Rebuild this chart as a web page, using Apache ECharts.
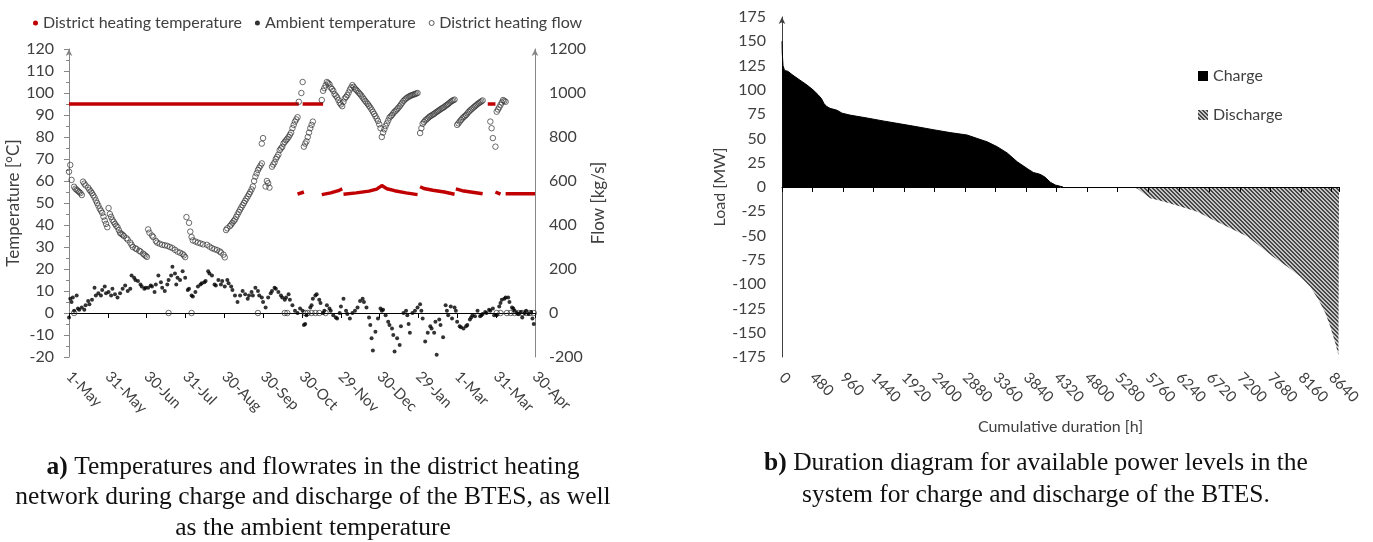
<!DOCTYPE html>
<html>
<head>
<meta charset="utf-8">
<title>BTES district heating</title>
<script src="https://cdn.jsdelivr.net/npm/echarts@6.0.0/dist/echarts.min.js"></script>
<style>
	html, body { margin: 0; padding: 0; background: #fff; }
	#main { width: 1373px; height: 542px; }
</style>
</head>
<body>
<div id="main"></div>
<script>
// ---- a) district heating, one year from 1-May (x = day of year) ----
var monthLabels = ['1-May', '31-May', '30-Jun', '31-Jul', '30-Aug', '30-Sep', '30-Oct',
	'29-Nov', '30-Dec', '29-Jan', '1-Mar', '31-Mar', '30-Apr'];

// supply temperature [°C], '-' breaks the line
var dhTemp = [
	[0, 95], [180, 95], [181, '-'], [183, 95], [199, 95], [200, '-'], [328, 95], [334, 95], [335, '-'],
	[179, 54], [184, 55], [185, '-'],
	[198, 53.8], [205, 54.6], [211, 55.6], [214, 56.5], [214.5, '-'],
	[215, 54], [225, 54.6], [235, 55.4], [241, 56.3], [245, 57.9],
	[249, 56.5], [255, 55.6], [264, 54.6], [273, 53.8], [274, '-'],
	[275, 57.4], [278, 56.6], [285, 55.8], [294, 55], [302, 54], [302.5, '-'],
	[303, 56.4], [308, 55.6], [316, 54.9], [324, 54.2], [325, '-'],
	[334, 55], [338, 54], [339, '-'],
	[342, 54.2], [365, 54.2]
];

// ambient temperature [°C]
var ambientTemp = [
	[0, -2], [1, 6.5], [2, 5], [3, 7], [4, 1], [6, 8], [7, 2], [8, 1.5], [10, 2.5], [12, 1.5], [13, 3.5], [15, 5.5], [16, 4],
	[18, 6], [20, 11.5], [21, 8], [23, 9], [25, 8], [26, 10.5], [28, 12], [29, 9], [31, 9.5], [33, 8], [34, 11], [36, 8.5],
	[38, 7], [40, 9], [42, 11], [44, 12.5], [46, 10], [48, 11], [49, 17], [51, 16], [52, 15], [54, 14.5], [56, 13],
	[57, 12], [59, 11], [60, 11.5], [62, 11.5], [64, 12.5], [65, 12], [67, 9.5], [68, 13], [70, 17], [72, 14], [73, 11.5],
	[75, 10], [77, 13], [78, 15], [80, 17], [81, 21], [83, 18], [84, 13], [85, 16], [87, 15], [89, 19], [91, 16], [93, 10.5],
	[94, 11], [96, 8], [97, 7.5], [99, 9.5], [101, 12], [103, 13], [104, 13.5], [106, 14], [107, 14.5], [109, 19], [110, 18],
	[112, 17], [114, 13], [115, 12.5], [117, 15], [119, 13], [120, 14.5], [122, 12], [124, 15], [125, 13.5], [127, 12],
	[128, 10.5], [130, 8], [132, 5], [134, 8], [136, 10], [138, 8.5], [140, 6.5], [141, 8], [143, 9.5], [144, 8],
	[146, 11.5], [148, 10], [149, 8], [151, 7], [152, 5], [154, 2.5], [156, 7], [158, 9], [159, 10], [161, 11.5],
	[162, 11], [164, 9.5], [166, 8], [167, 7], [169, 6], [170, 7], [172, 8.5], [173, 6], [175, 3.5], [177, 1], [179, 0],
	[181, 2], [183, 1], [184, -5.5], [185, -5], [186, -1], [189, 2.5], [190, 3.5], [191, 6.5], [193, 8], [194, 8.5],
	[196, 6], [197, 4.5], [199, 0], [200, 1], [202, 3.5], [204, 2], [205, 1], [207, -1], [209, -2], [210, -2.5], [212, 0],
	[213, 3], [215, 6.5], [217, 1], [218, -0.5], [220, -2.5], [222, 0], [224, 1], [226, 2.5], [228, 5.5], [230, 6.5],
	[231, 5], [233, 2.5], [235, -2], [236, -5.5], [237, -11.5], [238, -17], [240, -8.5], [242, -2.5], [244, 2],
	[245, 1], [246, 1.5], [248, -1], [250, -4], [251, -5.5], [253, -7], [254, -10], [255, -17.5], [257, -11.5],
	[259, -14.5], [260, -6], [262, 0], [264, 1], [265, -1], [266, -5], [267, -9], [269, 0], [271, 1], [273, 2.5],
	[275, 4], [276, 1], [277, -2.5], [279, -13], [281, -9], [283, -6], [284, -7], [286, -9], [287, -4], [288, -19],
	[290, -3], [291, -5.5], [293, -11], [295, 3.5], [296, 1], [297, -1], [299, 3], [300, -2.5], [302, 2.5], [303, 1],
	[304, -4], [306, -6], [307, -6.5], [309, -7], [311, -6], [312, -5.5], [314, -3], [315, -2], [316, -1], [318, -1.5],
	[320, 1], [322, -1.5], [323, -1], [324, -0.5], [326, 0.5], [327, 0], [329, 1.5], [330, 1], [332, 2], [333, -1],
	[335, -1], [337, 3], [338, 4.5], [339, 6], [341, 6.5], [342, 7], [344, 7], [345, 5], [347, 2.5], [348, 2], [349, 1],
	[351, 0], [352, -0.5], [354, 0.5], [355, -2], [357, 0], [358, 1], [360, -0.5], [362, 0.5], [363, -2.5], [364, -5]
];

// district heating flow [kg/s]
var dhFlow = [
	[0, 642], [1, 673], [2, 605], [4, 574], [5, 565], [6, 560], [7, 555], [8, 550], [9, 545], [10, 536],
	[11, 597], [12, 588], [13, 580], [15, 570], [16, 560], [17, 553], [18, 545], [19, 535], [20, 525], [21, 512],
	[22, 500], [23, 488], [24, 475], [25, 465], [26, 455], [27, 438], [28, 420], [29, 405], [30, 390],
	[31, 477], [32, 450], [33, 437], [34, 424], [35, 414], [36, 405], [37, 397], [38, 390], [39, 377], [40, 364],
	[41, 360], [42, 355], [43, 350], [45, 340], [46, 333], [48, 320], [49, 310], [50, 300], [52, 294], [53, 290],
	[55, 283], [56, 279], [58, 270], [59, 265], [60, 260], [61, 255],
	[62, 380], [63, 365], [65, 352], [66, 345], [68, 328], [69, 320], [71, 315], [73, 310], [75, 308], [77, 305],
	[79, 300], [81, 295], [83, 287], [85, 279], [87, 274], [89, 268], [90, 262], [91, 254],
	[92, 436], [94, 410], [95, 370], [96, 345], [97, 330], [99, 325], [101, 320], [103, 316], [105, 312], [108, 310],
	[110, 302], [112, 295], [114, 290], [116, 286], [118, 280], [119, 275], [121, 265], [122, 253],
	[123, 377], [124, 385], [126, 395], [127, 402], [128, 410], [129, 418], [130, 425], [131, 437], [132, 448],
	[133, 459], [134, 470], [135, 480], [136, 490], [137, 500], [138, 510], [139, 520], [140, 530], [141, 540],
	[142, 550], [143, 562], [144, 575], [145, 600], [146, 620], [147, 635], [148, 650], [149, 660], [150, 670], [151, 680],
	[151, 770], [152, 795],
	[154, 575], [155, 600], [156, 590], [157, 570],
	[159, 665], [160, 675], [161, 685], [162, 700], [163, 710], [164, 720], [165, 740], [166, 748], [167, 755],
	[168, 770], [169, 778], [170, 785], [171, 792], [172, 800], [173, 810], [174, 820], [175, 840], [176, 855],
	[177, 870], [178, 880], [179, 890], [180, 960], [182, 1000], [183, 1050],
	[184, 756], [185, 770], [186, 780], [187, 800], [188, 820], [189, 840], [190, 855], [191, 870],
	[198, 968], [199, 1010], [200, 1022], [201, 1035], [202, 1050], [203, 1045], [204, 1040], [205, 1025], [206, 1018],
	[207, 1010], [208, 995], [209, 988], [210, 980], [211, 968], [212, 955], [213, 948], [214, 940],
	[215, 960], [216, 975], [217, 982], [218, 990], [219, 1002], [220, 1015], [221, 1025], [222, 1036], [223, 1028],
	[224, 1020], [225, 1014], [226, 1008], [227, 1001], [228, 995], [229, 988], [230, 980], [231, 972], [232, 964],
	[233, 957], [234, 950], [235, 942], [236, 934], [237, 925], [238, 915], [239, 905], [240, 895], [241, 884],
	[242, 873], [243, 858], [244, 840], [245, 800],
	[246, 820], [247, 835], [248, 850], [249, 862], [250, 875], [251, 888], [252, 894], [253, 900], [254, 908],
	[255, 915], [256, 920], [257, 926], [258, 933], [259, 940], [260, 948], [261, 956], [262, 964], [263, 970],
	[264, 975], [265, 979], [266, 983], [267, 986], [268, 989], [269, 991], [270, 993], [271, 995], [272, 998], [273, 1000],
	[275, 818], [276, 840], [277, 860], [278, 868], [279, 875], [280, 880], [281, 885], [282, 890], [283, 895],
	[284, 898], [285, 902], [286, 905], [287, 910], [288, 914], [289, 918], [290, 922], [291, 926], [292, 930],
	[293, 933], [294, 937], [295, 942], [296, 946], [297, 950], [298, 955], [299, 960], [300, 964], [301, 967], [302, 970],
	[304, 855], [305, 862], [306, 870], [307, 877], [308, 884], [309, 890], [310, 895], [311, 900], [312, 907],
	[313, 914], [314, 920], [315, 925], [316, 930], [317, 935], [318, 940], [319, 945], [320, 950], [321, 954],
	[322, 958], [323, 962], [324, 966],
	[330, 870], [331, 840], [332, 795], [334, 756],
	[335, 915], [336, 925], [337, 935], [338, 946], [339, 957], [340, 968], [341, 964], [342, 960],
	// days without flow
	[4, 0], [78, 0], [96, 0], [148, 0], [169, 0], [171, 0], [185, 0], [187, 0], [190, 0], [193, 0], [196, 0], [201, 0],
	[335, 0], [338, 0], [343, 0], [346, 0], [349, 0], [352, 0], [355, 0], [358, 0], [361, 0], [364, 0]
];

// ---- b) duration diagram (x = cumulative hours, y = MW) ----
var chargeLoad = [
	[0, 150], [4, 138], [16, 125], [40, 120], [94, 119], [173, 115], [283, 110], [393, 105], [488, 100], [567, 95],
	[620, 91], [660, 86], [700, 83], [755, 81], [866, 79], [944, 76], [1070, 74], [1338, 71], [1590, 68], [1857, 65],
	[2125, 62], [2377, 59], [2644, 56], [2912, 53.5], [3069, 50], [3227, 46.5], [3384, 41.5], [3542, 35], [3699, 26],
	[3856, 19], [3951, 15], [4061, 13], [4140, 10], [4218, 5], [4300, 2], [4420, 0]
];
var dischargeLoad = [
	[5525, 0], [5600, -2], [5650, -5], [5792, -11.5], [5997, -15], [6265, -20], [6532, -25.5], [6784, -34],
	[7052, -42.5], [7319, -51], [7524, -61.5], [7729, -72], [7949, -82], [8153, -92.5], [8311, -103], [8437, -116],
	[8547, -130], [8625, -144], [8704, -161], [8751, -173], [8760, -173]
];

var labelFont = 'Lato';
var labelColor = '#404040';
var captionFont = 'Liberation Serif';

// fine "\" hatch for the discharge area (4px tile, 2px dark / 2px light)
var hatch = document.createElement('canvas');
hatch.width = 4;
hatch.height = 4;
var hctx = hatch.getContext('2d');
for (var hy = 0; hy < 4; ++hy) {
	for (var hx = 0; hx < 4; ++hx) {
		var d = (hx - hy + 8) % 4;
		hctx.fillStyle = (d === 0 || d === 1) ? '#474747' : '#c4c4c4';
		hctx.fillRect(hx, hy, 1, 1);
	}
}
var hatchFill = { image: hatch, repeat: 'repeat' };

var myChart = echarts.init(document.getElementById('main'));

var plainNumber = function(v) {
	return String(v);
};

var option = {
	animation: false,
	textStyle: { fontFamily: labelFont, color: labelColor },
	title: [{
		text: '{b|a)} Temperatures and flowrates in the district heating\nnetwork during charge and discharge of the BTES, as well\nas the ambient temperature',
		left: 308,
		top: 447,
		textAlign: 'center',
		textStyle: {
			fontFamily: captionFont, fontSize: 25.5, fontWeight: 'normal', color: '#111', lineHeight: 30.5,
			rich: { b: { fontFamily: captionFont, fontSize: 25.5, fontWeight: 'bold', color: '#111', lineHeight: 30.5 } }
		}
	}, {
		text: '{b|b)} Duration diagram for available power levels in the\nsystem for charge and discharge of the BTES.',
		left: 1031,
		top: 442,
		textAlign: 'center',
		textStyle: {
			fontFamily: captionFont, fontSize: 25.5, fontWeight: 'normal', color: '#111', lineHeight: 32,
			rich: { b: { fontFamily: captionFont, fontSize: 25.5, fontWeight: 'bold', color: '#111', lineHeight: 32 } }
		}
	}],
	legend: [{
		left: 28,
		top: 10,
		itemWidth: 5,
		itemHeight: 5,
		itemGap: 13,
		textStyle: { fontFamily: labelFont, fontSize: 16, color: labelColor },
		data: [
			{ name: 'District heating temperature', icon: 'circle', itemStyle: { color: '#C00000' } },
			{ name: 'Ambient temperature', icon: 'circle', itemStyle: { color: '#000' } },
			{ name: 'District heating flow', icon: 'circle', itemStyle: { color: '#fff', borderColor: '#333', borderWidth: 1 } }
		]
	}, {
		orient: 'vertical',
		left: 1193,
		top: 63,
		itemWidth: 10,
		itemHeight: 10,
		itemGap: 23,
		textStyle: { fontFamily: labelFont, fontSize: 16, color: labelColor },
		data: [
			{ name: 'Charge', icon: 'rect', itemStyle: { color: '#000' } },
			{ name: 'Discharge', icon: 'rect', itemStyle: { color: hatchFill } }
		]
	}],
	grid: [
		{ left: 69, top: 49, width: 466, height: 308 },
		{ left: 782, top: 17, width: 557, height: 340 }
	],
	xAxis: [{
		// zero line with ticks
		gridIndex: 0, type: 'value', min: 0, max: 365, interval: 365 / 12,
		axisLine: { onZero: true, lineStyle: { color: '#000', width: 1 } },
		axisTick: { show: true, length: 5, lineStyle: { color: '#000' } },
		axisLabel: { show: false },
		splitLine: { show: false }
	}, {
		// labels at the bottom
		gridIndex: 0, type: 'value', position: 'bottom', min: 0, max: 365, interval: 365 / 12,
		axisLine: { show: false, onZero: false },
		axisTick: { show: false },
		splitLine: { show: false },
		axisLabel: {
			rotate: -45, margin: 17, fontSize: 15, color: labelColor,
			formatter: function(v) {
				return monthLabels[Math.round(v / (365 / 12))] || '';
			}
		}
	}, {
		gridIndex: 1, type: 'value', min: 0, max: 8760, interval: 480,
		axisLine: { onZero: true, lineStyle: { color: '#000', width: 1 } },
		axisTick: { show: true, length: 5, lineStyle: { color: '#000' } },
		axisLabel: { show: false },
		splitLine: { show: false },
		z: 5
	}, {
		gridIndex: 1, type: 'value', position: 'bottom', min: 0, max: 8760, interval: 480,
		axisLine: { show: false, onZero: false },
		axisTick: { show: false },
		splitLine: { show: false },
		name: 'Cumulative duration [h]',
		nameLocation: 'middle',
		nameGap: 62,
		nameTextStyle: { fontFamily: labelFont, fontSize: 16, color: labelColor },
		axisLabel: {
			rotate: -45, margin: 18, fontSize: 15, color: labelColor, showMaxLabel: false,
			formatter: function(v) {
				return v % 480 === 0 ? String(v) : '';
			}
		}
	}],
	yAxis: [{
		gridIndex: 0, type: 'value', min: -20, max: 120, interval: 10,
		name: 'Temperature [°C]',
		nameLocation: 'middle',
		nameGap: 44,
		nameTextStyle: { fontFamily: labelFont, fontSize: 17, color: labelColor },
		axisLine: { show: true, onZero: false, symbol: ['none', 'arrow'], symbolSize: [5, 7], lineStyle: { color: '#868686' } },
		axisTick: { show: true, length: 5, lineStyle: { color: '#868686' } },
		minorTick: { show: true, splitNumber: 2, length: 3, lineStyle: { color: '#868686' } },
		splitLine: { show: false },
		axisLabel: { fontSize: 16, color: labelColor, margin: 15 }
	}, {
		gridIndex: 0, type: 'value', position: 'right', min: -200, max: 1200, interval: 200,
		name: 'Flow [kg/s]',
		nameLocation: 'middle',
		nameGap: 55,
		nameRotate: 90,
		nameTextStyle: { fontFamily: labelFont, fontSize: 17, color: labelColor },
		axisLine: { show: true, onZero: false, symbol: ['none', 'arrow'], symbolSize: [5, 7], lineStyle: { color: '#868686' } },
		axisTick: { show: false },
		splitLine: { show: false },
		axisLabel: { fontSize: 16, color: labelColor, margin: 14, formatter: plainNumber }
	}, {
		gridIndex: 1, type: 'value', min: -175, max: 175, interval: 25,
		name: 'Load [MW]',
		nameLocation: 'middle',
		nameGap: 50,
		nameTextStyle: { fontFamily: labelFont, fontSize: 16, color: labelColor },
		axisLine: { show: true, onZero: false, symbol: ['none', 'arrow'], symbolSize: [5, 7], lineStyle: { color: '#404040' } },
		axisTick: { show: false },
		splitLine: { show: false },
		axisLabel: { fontSize: 16, color: labelColor, margin: 16 }
	}],
	series: [{
		name: 'District heating temperature',
		type: 'line',
		xAxisIndex: 0, yAxisIndex: 0,
		data: dhTemp,
		symbol: 'none',
		connectNulls: false,
		lineStyle: { color: '#C00000', width: 3.5 },
		itemStyle: { color: '#C00000' },
		z: 3
	}, {
		name: 'District heating flow',
		type: 'scatter',
		xAxisIndex: 0, yAxisIndex: 1,
		data: dhFlow,
		symbol: 'circle',
		symbolSize: 5.5,
		itemStyle: { color: 'rgba(0,0,0,0)', borderColor: '#333', borderWidth: 0.9 },
		z: 4
	}, {
		name: 'Ambient temperature',
		type: 'scatter',
		xAxisIndex: 0, yAxisIndex: 0,
		data: ambientTemp,
		symbolSize: 4,
		itemStyle: { color: '#000' },
		z: 5
	}, {
		name: 'Charge',
		type: 'line',
		xAxisIndex: 2, yAxisIndex: 2,
		data: chargeLoad,
		symbol: 'none',
		lineStyle: { color: '#000', width: 1 },
		itemStyle: { color: '#000' },
		areaStyle: { color: '#000', opacity: 1 }
	}, {
		name: 'Discharge',
		type: 'line',
		xAxisIndex: 2, yAxisIndex: 2,
		data: dischargeLoad,
		symbol: 'none',
		lineStyle: { width: 0 },
		itemStyle: { color: '#666' },
		areaStyle: { color: hatchFill, opacity: 1 }
	}]
};

// console.log('option', option);
myChart.setOption(option);
</script>
</body>
</html>
